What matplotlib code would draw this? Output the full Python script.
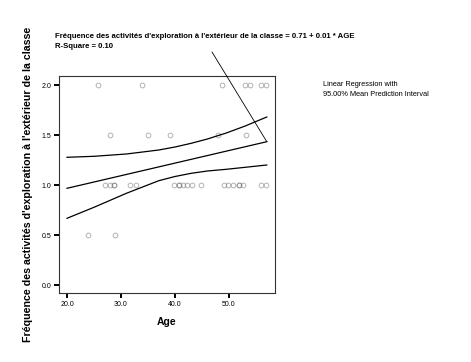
import matplotlib
matplotlib.use("Agg")
import matplotlib.pyplot as plt
import numpy as np

plt.rcParams['font.family'] = ['Liberation Sans', 'DejaVu Sans']

# scatter points, grouped by response value (ages)
ages_20 = [25.7, 33.8, 48.7, 52.9, 53.8, 55.9, 56.8]
ages_15 = [27.9, 35.0, 39.0, 47.9, 53.1]
ages_10 = [27.0, 27.9, 28.7, 28.7, 31.7, 32.7, 39.9, 40.7, 40.7, 41.4, 42.3,
           43.1, 44.8, 49.1, 49.9, 50.8, 51.9, 51.9, 52.6, 55.9, 56.8]
ages_05 = [23.9, 28.8]

# regression line and 95% mean prediction band
fit_ages = [20, 57]
fit_vals = [0.967, 1.433]
band_ages = [20, 25, 31, 37, 40, 43, 46, 49.5, 53, 57]
band_upper = [1.277, 1.287, 1.31, 1.35, 1.38, 1.417, 1.46, 1.52, 1.59, 1.68]
band_lower = [0.667, 0.777, 0.917, 1.043, 1.085, 1.117, 1.14, 1.157, 1.177, 1.20]

x_ticks = [20, 30, 40, 50]
y_ticks = [0.0, 0.5, 1.0, 1.5, 2.0]

title1 = "Fréquence des activités d'exploration à l'extérieur de la classe = 0.71 + 0.01 * AGE"
title2 = "R-Square = 0.10"
ylab = "Fréquence des activités d'exploration à l'extérieur de la classe"


def main():
    fig = plt.figure(figsize=(4.71, 3.62), dpi=100)
    ax = fig.add_axes([59 / 471, 1 - 293 / 362, 216 / 471, 217 / 362])

    groups = [(ages_20, 2.0), (ages_15, 1.5), (ages_10, 1.0), (ages_05, 0.5)]
    for ages, val in groups:
        ax.plot(ages, [val] * len(ages), 'o', ms=3.4, mfc='none',
                mec=(0.4, 0.4, 0.4, 0.5), mew=0.7, zorder=2)

    ax.plot(fit_ages, fit_vals, color='black', lw=0.9, zorder=3)
    ax.plot(band_ages, band_upper, color='black', lw=0.9, zorder=3)
    ax.plot(band_ages, band_lower, color='black', lw=0.9, zorder=3)

    ax.set_xlim(18.52, 58.52)
    ax.set_ylim(-0.08, 2.09)
    ax.set_xticks(x_ticks)
    ax.set_xticklabels(["%.1f" % t for t in x_ticks])
    ax.set_yticks(y_ticks)
    ax.set_yticklabels(["%.1f" % t for t in y_ticks])
    ax.tick_params(direction='out', length=3.5, width=1.4, labelsize=5,
                   pad=2, color='black')
    for sp in ax.spines.values():
        sp.set_linewidth(0.8)
        sp.set_color('#333333')

    ax.set_xlabel("Age", fontsize=7.5, fontweight='bold', labelpad=7)
    fig.text(28 / 471, 1 - 184 / 362, ylab, rotation=90, fontsize=7.7,
             fontweight='bold', ha='center', va='center')

    fig.text(55 / 471, 1 - 37 / 362, title1, fontsize=5.6,
             fontweight='bold', ha='left', va='center')
    fig.text(55 / 471, 1 - 47 / 362, title2, fontsize=5.6,
             fontweight='bold', ha='left', va='center')

    fig.text(323 / 471, 1 - 85 / 362, "Linear Regression with", fontsize=5.3,
             ha='left', va='center')
    fig.text(323 / 471, 1 - 95 / 362, "95.00% Mean Prediction Interval",
             fontsize=5.3, ha='left', va='center')

    ax.annotate('', xy=(fit_ages[-1], fit_vals[-1]), xycoords='data',
                xytext=(212 / 471, 1 - 52 / 362), textcoords='figure fraction',
                arrowprops=dict(arrowstyle='-', lw=0.6, color='black',
                                shrinkA=0, shrinkB=0),
                annotation_clip=False)

    fig.savefig("out.png", dpi=100)


if __name__ == '__main__':
    main()
